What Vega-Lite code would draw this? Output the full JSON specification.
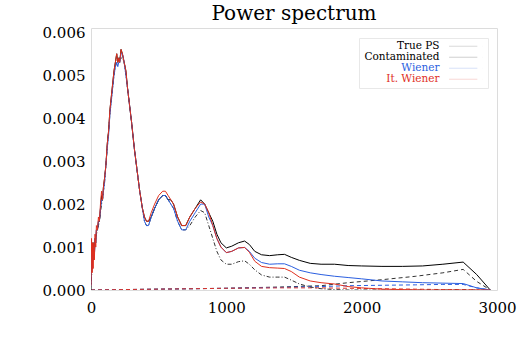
{
  "$schema": "https://vega.github.io/schema/vega-lite/v6.json",
  "width": 406,
  "height": 262,
  "autosize": {"type": "none"},
  "padding": {"left": 91, "top": 28, "right": 28, "bottom": 60},
  "background": "white",
  "title": {"text": "Power spectrum", "font": "DejaVu Serif", "fontSize": 20, "fontWeight": "normal", "anchor": "middle", "frame": "group", "offset": 1, "color": "#000"},
  "config": {
    "view": {"stroke": "#dcdcdc", "strokeWidth": 1},
    "axis": {"labelFont": "DejaVu Serif", "labelFontSize": 15, "labelColor": "#000", "domain": false, "ticks": false, "grid": false, "title": null, "labelFlush": false}
  },
  "datasets": {
    "main": [
      {"k": 0, "T": 0.0000, "C": 0.0001, "W": 0.0001, "I": 0.0001},
      {"k": 4, "T": 0.0003, "C": 0.0010, "W": 0.0009, "I": 0.0012},
      {"k": 8, "T": 0.0005, "C": 0.0005, "W": 0.0005, "I": 0.0004},
      {"k": 12, "T": 0.0007, "C": 0.0011, "W": 0.0010, "I": 0.0011},
      {"k": 16, "T": 0.0008, "C": 0.0007, "W": 0.0007, "I": 0.0005},
      {"k": 20, "T": 0.0009, "C": 0.0011, "W": 0.0010, "I": 0.0011},
      {"k": 25, "T": 0.0010, "C": 0.0008, "W": 0.0008, "I": 0.0007},
      {"k": 30, "T": 0.0011, "C": 0.0012, "W": 0.0012, "I": 0.0013},
      {"k": 35, "T": 0.0012, "C": 0.0011, "W": 0.0011, "I": 0.0010},
      {"k": 40, "T": 0.0013, "C": 0.0014, "W": 0.0014, "I": 0.0015},
      {"k": 48, "T": 0.0014, "C": 0.0014, "W": 0.0014, "I": 0.0014},
      {"k": 55, "T": 0.0015, "C": 0.0016, "W": 0.0016, "I": 0.0017},
      {"k": 62, "T": 0.0016, "C": 0.0016, "W": 0.0016, "I": 0.0016},
      {"k": 70, "T": 0.0018, "C": 0.0019, "W": 0.0019, "I": 0.0020},
      {"k": 78, "T": 0.0020, "C": 0.0022, "W": 0.0021, "I": 0.0023},
      {"k": 85, "T": 0.0021, "C": 0.0021, "W": 0.0021, "I": 0.0021},
      {"k": 92, "T": 0.0023, "C": 0.0024, "W": 0.0023, "I": 0.0024},
      {"k": 100, "T": 0.0025, "C": 0.0026, "W": 0.0025, "I": 0.0026},
      {"k": 110, "T": 0.0029, "C": 0.0029, "W": 0.0029, "I": 0.0029},
      {"k": 120, "T": 0.0033, "C": 0.0034, "W": 0.0033, "I": 0.0034},
      {"k": 130, "T": 0.0037, "C": 0.0037, "W": 0.0036, "I": 0.0037},
      {"k": 140, "T": 0.0041, "C": 0.0042, "W": 0.0041, "I": 0.0042},
      {"k": 150, "T": 0.0044, "C": 0.0045, "W": 0.0044, "I": 0.0045},
      {"k": 160, "T": 0.0047, "C": 0.0048, "W": 0.0047, "I": 0.0048},
      {"k": 170, "T": 0.0050, "C": 0.0051, "W": 0.0050, "I": 0.0051},
      {"k": 180, "T": 0.0052, "C": 0.0053, "W": 0.0052, "I": 0.0053},
      {"k": 190, "T": 0.0053, "C": 0.0055, "W": 0.0053, "I": 0.0055},
      {"k": 198, "T": 0.0054, "C": 0.0053, "W": 0.0052, "I": 0.0053},
      {"k": 205, "T": 0.0054, "C": 0.0054, "W": 0.0053, "I": 0.0054},
      {"k": 212, "T": 0.0054, "C": 0.0053, "W": 0.0053, "I": 0.0053},
      {"k": 222, "T": 0.0054, "C": 0.0056, "W": 0.0055, "I": 0.0056},
      {"k": 232, "T": 0.0054, "C": 0.0055, "W": 0.0055, "I": 0.0055},
      {"k": 245, "T": 0.0053, "C": 0.0053, "W": 0.0053, "I": 0.0053},
      {"k": 258, "T": 0.0050, "C": 0.0051, "W": 0.0050, "I": 0.0051},
      {"k": 270, "T": 0.0047, "C": 0.0047, "W": 0.0047, "I": 0.0047},
      {"k": 285, "T": 0.0043, "C": 0.0043, "W": 0.0043, "I": 0.0043},
      {"k": 300, "T": 0.0039, "C": 0.0039, "W": 0.0039, "I": 0.0039},
      {"k": 320, "T": 0.0033, "C": 0.0033, "W": 0.0033, "I": 0.0033},
      {"k": 340, "T": 0.0028, "C": 0.0028, "W": 0.0028, "I": 0.0028},
      {"k": 360, "T": 0.0023, "C": 0.0023, "W": 0.0023, "I": 0.0023},
      {"k": 380, "T": 0.0019, "C": 0.0019, "W": 0.0019, "I": 0.0019},
      {"k": 395, "T": 0.0016, "C": 0.0017, "W": 0.0016, "I": 0.0017},
      {"k": 410, "T": 0.0015, "C": 0.0016, "W": 0.0015, "I": 0.0016},
      {"k": 425, "T": 0.0015, "C": 0.0016, "W": 0.0015, "I": 0.0016},
      {"k": 445, "T": 0.0017, "C": 0.0017, "W": 0.0017, "I": 0.0018},
      {"k": 470, "T": 0.0019, "C": 0.0019, "W": 0.0019, "I": 0.0020},
      {"k": 500, "T": 0.0021, "C": 0.0021, "W": 0.0021, "I": 0.0022},
      {"k": 530, "T": 0.0022, "C": 0.0022, "W": 0.0022, "I": 0.0023},
      {"k": 550, "T": 0.0022, "C": 0.0022, "W": 0.0022, "I": 0.0023},
      {"k": 570, "T": 0.0021, "C": 0.0021, "W": 0.0021, "I": 0.0022},
      {"k": 590, "T": 0.0020, "C": 0.0021, "W": 0.0020, "I": 0.0021},
      {"k": 610, "T": 0.0019, "C": 0.0020, "W": 0.0019, "I": 0.0020},
      {"k": 640, "T": 0.0016, "C": 0.0017, "W": 0.0016, "I": 0.0017},
      {"k": 670, "T": 0.0014, "C": 0.0015, "W": 0.0014, "I": 0.0015},
      {"k": 700, "T": 0.0014, "C": 0.0015, "W": 0.0014, "I": 0.0015},
      {"k": 730, "T": 0.0015, "C": 0.0017, "W": 0.0016, "I": 0.0017},
      {"k": 770, "T": 0.0017, "C": 0.0019, "W": 0.0018, "I": 0.0019},
      {"k": 810, "T": 0.00185, "C": 0.0021, "W": 0.0020, "I": 0.00205},
      {"k": 840, "T": 0.0018, "C": 0.0020, "W": 0.0020, "I": 0.0020},
      {"k": 870, "T": 0.0015, "C": 0.0018, "W": 0.0017, "I": 0.0018},
      {"k": 900, "T": 0.0012, "C": 0.0016, "W": 0.0015, "I": 0.0015},
      {"k": 930, "T": 0.0009, "C": 0.0013, "W": 0.0012, "I": 0.0012},
      {"k": 960, "T": 0.0007, "C": 0.0011, "W": 0.0010, "I": 0.0010},
      {"k": 1000, "T": 0.0006, "C": 0.00098, "W": 0.00087, "I": 0.00087},
      {"k": 1040, "T": 0.0006, "C": 0.00102, "W": 0.0009, "I": 0.0009},
      {"k": 1090, "T": 0.00066, "C": 0.0011, "W": 0.00098, "I": 0.00098},
      {"k": 1135, "T": 0.00068, "C": 0.00114, "W": 0.00099, "I": 0.00099},
      {"k": 1170, "T": 0.0006, "C": 0.00106, "W": 0.0009, "I": 0.00088},
      {"k": 1210, "T": 0.00047, "C": 0.0009, "W": 0.00074, "I": 0.00067},
      {"k": 1260, "T": 0.00035, "C": 0.00082, "W": 0.00064, "I": 0.00055},
      {"k": 1320, "T": 0.0003, "C": 0.0008, "W": 0.0006, "I": 0.00052},
      {"k": 1380, "T": 0.0003, "C": 0.00082, "W": 0.00061, "I": 0.00051},
      {"k": 1430, "T": 0.0003, "C": 0.00083, "W": 0.00061, "I": 0.0005},
      {"k": 1480, "T": 0.00023, "C": 0.00076, "W": 0.00055, "I": 0.00043},
      {"k": 1540, "T": 0.00014, "C": 0.00069, "W": 0.00046, "I": 0.0003},
      {"k": 1620, "T": 0.00007, "C": 0.00062, "W": 0.0004, "I": 0.00021},
      {"k": 1700, "T": 0.00003, "C": 0.0006, "W": 0.00036, "I": 0.00017},
      {"k": 1800, "T": 0.00001, "C": 0.0006, "W": 0.00032, "I": 0.00014},
      {"k": 1900, "T": 0.0, "C": 0.00057, "W": 0.00029, "I": 0.00008},
      {"k": 2000, "T": 0.0, "C": 0.00056, "W": 0.00026, "I": 0.00005},
      {"k": 2150, "T": 0.0, "C": 0.00055, "W": 0.00021, "I": 0.00002},
      {"k": 2300, "T": 0.0, "C": 0.00055, "W": 0.00019, "I": 0.00001},
      {"k": 2450, "T": 0.0, "C": 0.00056, "W": 0.00017, "I": 0.0},
      {"k": 2600, "T": 0.0, "C": 0.0006, "W": 0.00016, "I": 0.0},
      {"k": 2750, "T": 0.0, "C": 0.00065, "W": 0.00015, "I": 0.0},
      {"k": 2850, "T": 0.0, "C": 0.00036, "W": 0.00005, "I": 0.0},
      {"k": 2950, "T": 0.0, "C": 0.0, "W": 0.0, "I": 0.0}
    ],
    "noise": [
      {"k": 0, "nC": 0.0, "nW": 0.0, "nI": 0.0},
      {"k": 500, "nC": 0.00002, "nW": 0.00002, "nI": 0.00002},
      {"k": 1000, "nC": 0.00004, "nW": 0.00004, "nI": 0.00004},
      {"k": 1400, "nC": 0.00007, "nW": 0.00006, "nI": 0.00005},
      {"k": 1700, "nC": 0.0001, "nW": 0.00008, "nI": 0.00005},
      {"k": 1900, "nC": 0.00017, "nW": 0.0001, "nI": 0.00004},
      {"k": 2150, "nC": 0.00024, "nW": 0.00011, "nI": 0.00003},
      {"k": 2400, "nC": 0.00032, "nW": 0.00012, "nI": 0.00002},
      {"k": 2600, "nC": 0.0004, "nW": 0.00013, "nI": 0.00001},
      {"k": 2750, "nC": 0.00048, "nW": 0.00013, "nI": 0.00001},
      {"k": 2850, "nC": 0.0002, "nW": 0.00005, "nI": 0.0},
      {"k": 2950, "nC": 0.0, "nW": 0.0, "nI": 0.0}
    ]
  },
  "encoding": {
    "x": {"field": "k", "type": "quantitative", "scale": {"domain": [0, 3000], "nice": false}, "axis": {"values": [0, 1000, 2000, 3000], "format": "d", "labelPadding": 10}},
    "y": {"field": "P", "type": "quantitative", "scale": {"domain": [0, 0.0061], "nice": false, "zero": false}, "axis": {"values": [0, 0.001, 0.002, 0.003, 0.004, 0.005, 0.006], "format": ".3f", "labelPadding": 6}}
  },
  "layer": [
    {
      "data": {"name": "noise"},
      "transform": [{"fold": ["nC", "nW", "nI"], "as": ["key", "P"]}],
      "mark": {"type": "line", "strokeWidth": 1, "strokeDash": [4, 3], "clip": true},
      "encoding": {
        "stroke": {"field": "key", "type": "nominal", "scale": {"domain": ["nC", "nW", "nI"], "range": ["#333333", "#2b5fe0", "#d9342a"]}, "legend": null}
      }
    },
    {
      "data": {"name": "main"},
      "transform": [{"fold": ["T"], "as": ["key", "P"]}],
      "mark": {"type": "line", "strokeWidth": 1, "strokeDash": [4, 2, 1, 2], "clip": true},
      "encoding": {
        "color": {"field": "key", "type": "nominal"}
      }
    },
    {
      "data": {"name": "main"},
      "transform": [{"fold": ["C", "W", "I"], "as": ["key", "P"]}],
      "mark": {"type": "line", "strokeWidth": 1, "clip": true},
      "encoding": {
        "color": {
          "field": "key", "type": "nominal",
          "scale": {"domain": ["T", "C", "W", "I"], "range": ["#333333", "#000000", "#2b5fe0", "#e0301e"]},
          "legend": {
            "title": null,
            "orient": "none",
            "legendX": 268,
            "legendY": 10,
            "padding": 3,
            "rowPadding": -1,
            "strokeColor": "#e8e8e8",
            "fillColor": "white",
            "labelFont": "DejaVu Serif",
            "labelFontSize": 10.5,
            "labelAlign": "right",
            "labelOffset": -29,
            "symbolOffset": 96,
            "symbolType": "M-3.9,0H3.9M5.3,0L5.32,0",
            "symbolSize": 52,
            "symbolStrokeWidth": 1,
            "symbolOpacity": 0.2,
            "symbolDash": [1, 0],
            "labelExpr": "datum.label == 'T' ? 'True PS' : datum.label == 'C' ? 'Contaminated' : datum.label == 'W' ? 'Wiener' : 'It. Wiener'",
            "encode": {
              "labels": {"update": {"fill": {"signal": "datum.value == 'W' ? '#2b5fe0' : datum.value == 'I' ? '#e0301e' : '#000000'"}}}
            }
          }
        }
      }
    }
  ]
}
